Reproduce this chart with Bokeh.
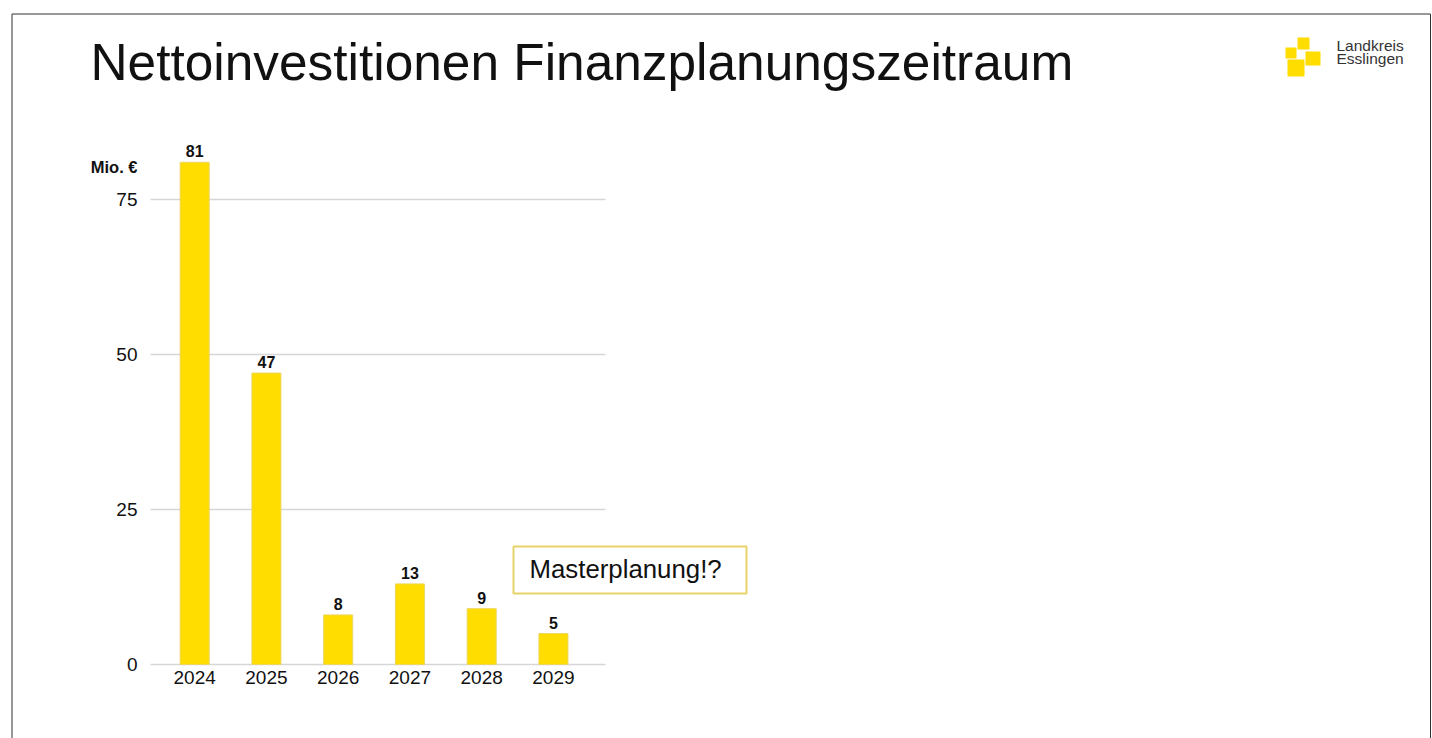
from bokeh.plotting import figure
from bokeh.models import Range1d, FixedTicker, Label, BoxAnnotation, LinearAxis
from bokeh.core.properties import value
from bokeh.embed import file_html
from bokeh.resources import INLINE

# ---- data ----
years = [2024, 2025, 2026, 2027, 2028, 2029]
values = [81, 47, 8, 13, 9, 5]
value_labels = ["81", "47", "8", "13", "9", "5"]
y_ticks = [0, 25, 50, 75]
title_text = "Nettoinvestitionen Finanzplanungszeitraum"
unit_text = "Mio. €"
note_text = "Masterplanung!?"
logo_lines = ["Landkreis", "Esslingen"]

FONT = "Liberation Sans"
YELLOW = "#FFDD00"

W, H = 1432, 738
# frame covers the whole slide; the chart sits inside it via its own ranges
p = figure(width=W, height=H, output_backend="svg", toolbar_location=None,
           x_range=Range1d(2021.433, 2041.238), y_range=Range1d(-11.935, 105.161),
           x_axis_type=None, y_axis_type=None,
           min_border_left=10, min_border_right=1,
           min_border_top=12, min_border_bottom=0)
p.outline_line_color = None
p.background_fill_color = "white"
p.border_fill_color = "white"
p.xgrid.visible = False
p.ygrid.visible = False

# horizontal grid lines limited to the chart area
x_lo = years[0] - 0.616
x_hi = years[-1] + 0.725
p.segment(x0=[x_lo] * len(y_ticks), x1=[x_hi] * len(y_ticks), y0=y_ticks, y1=y_ticks,
          line_color="#d6d6d6", line_width=1.3, level="underlay")

p.vbar(x=years, top=values, width=0.404, fill_color=YELLOW, line_color="#ecd65c", line_width=1)
p.text(x=years, y=values, text=value_labels, text_align="center", text_baseline="alphabetic",
       y_offset=-11, text_font=value(FONT), text_font_size="16px", text_font_style="bold",
       text_color="#111111")

# axes (fixed inside the frame)
yax = LinearAxis(ticker=FixedTicker(ticks=y_ticks), fixed_location=2022.645,
                 major_label_standoff=-40)
xax = LinearAxis(ticker=FixedTicker(ticks=years), fixed_location=-7.419,
                 major_label_standoff=-40)
for ax in (xax, yax):
    ax.axis_line_color = None
    ax.major_tick_line_color = None
    ax.minor_tick_line_color = None
    ax.major_tick_out = 0
    ax.major_tick_in = 0
    ax.major_label_text_font = FONT
    ax.major_label_text_font_size = "19px"
    ax.major_label_text_color = "#111111"
p.add_layout(yax, "left")
p.add_layout(xax, "below")

def canvas_box(l, r, t, b, **kw):
    return BoxAnnotation(left=l, right=r, top=t, bottom=b,
                         left_units="canvas", right_units="canvas",
                         top_units="canvas", bottom_units="canvas", **kw)

def canvas_label(x, y, text, size, **kw):
    # Bokeh places the alphabetic baseline ~0.4em below the anchor; compensate
    return Label(x=x, y=y - 0.4 * size, x_units="canvas", y_units="canvas", text=text,
                 text_font=FONT, text_font_size=f"{size}px", text_baseline="alphabetic", **kw)

# slide border
p.add_layout(canvas_box(11.5, 1430, 13.5, 800, fill_alpha=0, line_color="#333333",
                        line_alpha=1, line_width=1))

# title
p.add_layout(canvas_label(90, 82, title_text, 51.4, text_color="#111111", text_align="left"))

# unit label
p.add_layout(canvas_label(137, 173.3, unit_text, 16.5, text_font_style="bold",
                          text_color="#111111", text_align="right"))

# note box
p.add_layout(canvas_box(513, 746, 546, 593, fill_color="white", fill_alpha=1,
                        line_color="#e8d36a", line_alpha=1, line_width=2))
p.add_layout(canvas_label(529, 579, note_text, 25.8, text_color="#111111", text_align="left"))

# logo
for (l, r, t, b) in [(1297, 1309, 37, 49), (1285, 1296, 47, 58), (1305, 1320, 51, 65), (1287, 1304, 59, 76)]:
    p.add_layout(canvas_box(l, r, t, b, fill_color=YELLOW, fill_alpha=1, line_color=None))
for i, txt in enumerate(logo_lines):
    p.add_layout(canvas_label(1336, 50.7 + i * 13.8, txt, 15.5, text_color="#333333",
                              text_align="left"))

open("out.html", "w").write(file_html(p, INLINE))
